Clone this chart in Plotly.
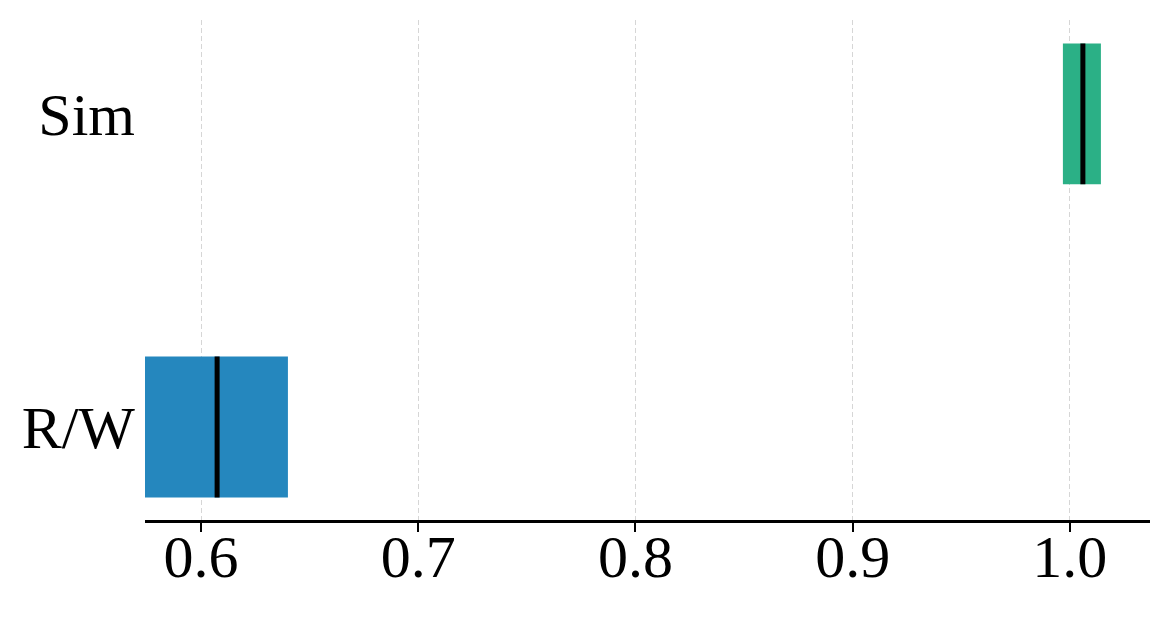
import plotly.graph_objects as go

# data
labels = ["R/W", "Sim"]
y_pos = [0, 1]
box_low = [0.570, 0.9968]
box_high = [0.6400, 1.0143]
medians = [0.6074, 1.0060]
colors = ["#2587BE", "#2BB086"]
tick_vals = [0.6, 0.7, 0.8, 0.9, 1.0]

BOX_W = 0.45

fig = go.Figure()

# boxes as horizontal bars from low to high
fig.add_trace(go.Bar(
    y=y_pos,
    x=[h - l for l, h in zip(box_low, box_high)],
    base=box_low,
    orientation="h",
    width=BOX_W,
    marker=dict(color=colors, line=dict(width=0)),
    showlegend=False,
))

# median lines
for yy, m in zip(y_pos, medians):
    fig.add_trace(go.Scatter(
        x=[m, m],
        y=[yy - BOX_W / 2, yy + BOX_W / 2],
        mode="lines",
        line=dict(color="black", width=5),
        showlegend=False,
    ))

# page body adds an 8px offset, margins compensate for it
fig.update_layout(
    width=1172,
    height=618,
    margin=dict(l=137, r=30, t=12, b=106),
    plot_bgcolor="white",
    paper_bgcolor="white",
    font=dict(family="Liberation Serif, Times New Roman, serif", size=60, color="black"),
)

fig.update_xaxes(
    range=[0.5742, 1.0369],
    tickvals=tick_vals,
    ticktext=[f"{v:.1f}" for v in tick_vals],
    showgrid=True,
    gridcolor="#d6d6d6",
    griddash="5px,3px",
    gridwidth=1.2,
    showline=True,
    linecolor="black",
    linewidth=2.5,
    ticks="outside",
    ticklen=9,
    tickwidth=2,
    tickcolor="black",
    zeroline=False,
    automargin=False,
    ticklabelstandoff=-27,
)

fig.update_yaxes(
    range=[-0.297, 1.3],
    tickvals=y_pos,
    ticktext=labels,
    showgrid=False,
    showline=False,
    zeroline=False,
    ticks="",
    automargin=False,
    ticklabelstandoff=9,
)

fig.write_html("out.html")
